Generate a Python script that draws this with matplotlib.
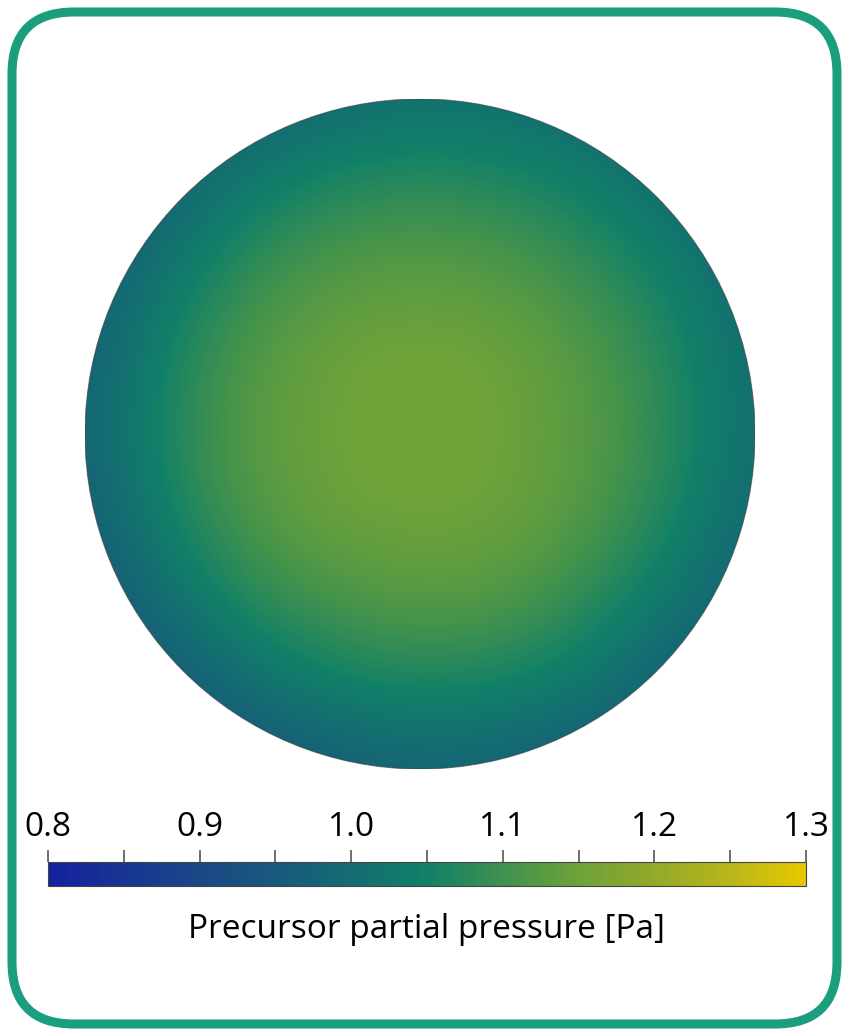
import numpy as np
import matplotlib
matplotlib.use("Agg")
import matplotlib.pyplot as plt
from matplotlib.colors import LinearSegmentedColormap, Normalize
from matplotlib.patches import Circle, FancyBboxPatch
import matplotlib.cm as cm
from matplotlib import font_manager

# ---- data ----
cbar_ticks = [0.8, 0.9, 1.0, 1.1, 1.2, 1.3]
cbar_tick_labels = ["0.8", "0.9", "1.0", "1.1", "1.2", "1.3"]
cbar_minor = [0.85, 0.95, 1.05, 1.15, 1.25]
vmin, vmax = 0.8, 1.3
cbar_label = "Precursor partial pressure [Pa]"

# colormap stops (value, colour)
cmap_values = [0.8, 0.85, 0.9, 0.95, 1.0, 1.05, 1.1, 1.15, 1.2, 1.25, 1.3]
cmap_colors = ["#15209e", "#183592", "#1a4886", "#19597c", "#146c72", "#118068",
               "#3f914e", "#6ea23a", "#92a92a", "#b9b61a", "#e6c800"]

# sampled pressure field on a 9x9 grid (rows top->bottom, cols left->right),
# grid spans the wafer diameter from -R to +R
grid_coords = [-1.0, -0.75, -0.5, -0.25, 0.0, 0.25, 0.5, 0.75, 1.0]
pressure_rows = [
    [0.96, 0.97, 0.97, 0.995, 1.01, 1.005, 0.99, 0.99, 0.99],
    [0.95, 0.975, 1.035, 1.07, 1.08, 1.07, 1.045, 0.995, 0.99],
    [0.95, 1.025, 1.09, 1.12, 1.13, 1.12, 1.09, 1.045, 0.985],
    [0.965, 1.06, 1.12, 1.15, 1.155, 1.15, 1.12, 1.07, 1.00],
    [0.975, 1.07, 1.13, 1.15, 1.16, 1.15, 1.13, 1.08, 1.00],
    [0.96, 1.055, 1.12, 1.15, 1.15, 1.15, 1.12, 1.065, 0.99],
    [0.93, 1.01, 1.08, 1.11, 1.13, 1.12, 1.085, 1.025, 0.96],
    [0.93, 0.945, 1.01, 1.05, 1.065, 1.055, 1.025, 0.965, 0.95],
    [0.92, 0.92, 0.93, 0.96, 0.975, 0.97, 0.95, 0.945, 0.95],
]

# ---- fonts ----
avail = {f.name for f in font_manager.fontManager.ttflist}
fam = [f for f in ["Liberation Sans Narrow", "Open Sans", "DejaVu Sans"] if f in avail]
plt.rcParams["font.family"] = fam

W, H = 849, 1036
fig = plt.figure(figsize=(W / 100, H / 100), dpi=100)

# rounded frame
bg = fig.add_axes([0, 0, 1, 1])
bg.set_xlim(0, W)
bg.set_ylim(H, 0)
bg.axis("off")
frame = FancyBboxPatch((12, 12), W - 24, H - 24,
                       boxstyle="round,pad=0,rounding_size=62",
                       fc="white", ec="#1a9e7d", lw=6.5)
bg.add_patch(frame)

cmap = LinearSegmentedColormap.from_list(
    "prec", [((v - vmin) / (vmax - vmin), c) for v, c in zip(cmap_values, cmap_colors)])
norm = Normalize(vmin=vmin, vmax=vmax)

# wafer disk
cx, cy, R = 420, 434, 335
ax = fig.add_axes([(cx - R) / W, 1 - (cy + R) / H, 2 * R / W, 2 * R / H])
ax.set_xlim(-1, 1)
ax.set_ylim(-1, 1)
ax.axis("off")
step = grid_coords[1] - grid_coords[0]
ext = [grid_coords[0] - step / 2, grid_coords[-1] + step / 2,
       grid_coords[0] - step / 2, grid_coords[-1] + step / 2]
im = ax.imshow(np.array(pressure_rows), cmap=cmap, norm=norm, extent=ext,
               interpolation="bicubic", origin="upper")
circ = Circle((0, 0), 1.0, transform=ax.transData, fc="none")
im.set_clip_path(circ)
ax.add_patch(Circle((0, 0), 1.0, fc="none", ec="#3a3a3a", lw=0.8, alpha=0.6))

# colorbar
cax = fig.add_axes([48 / W, 1 - 886 / H, (806 - 48) / W, 24 / H])
sm = cm.ScalarMappable(norm=norm, cmap=cmap)
cb = fig.colorbar(sm, cax=cax, orientation="horizontal")
cb.outline.set_edgecolor("#444444")
cb.outline.set_linewidth(0.8)
cax.xaxis.set_ticks_position("top")
cax.xaxis.set_label_position("top")
cb.set_ticks(cbar_ticks)
cax.set_xticks(cbar_minor, minor=True)
cax.set_xticklabels(cbar_tick_labels)
cax.tick_params(axis="x", which="both", direction="out", length=9, width=1.2,
                color="#555555", labelsize=24, pad=4)
cax.tick_params(axis="x", which="minor", labelsize=0)
fig.text(427 / W, 1 - 929 / H, cbar_label, ha="center", va="center", fontsize=24)

fig.savefig("out.png", dpi=100)
